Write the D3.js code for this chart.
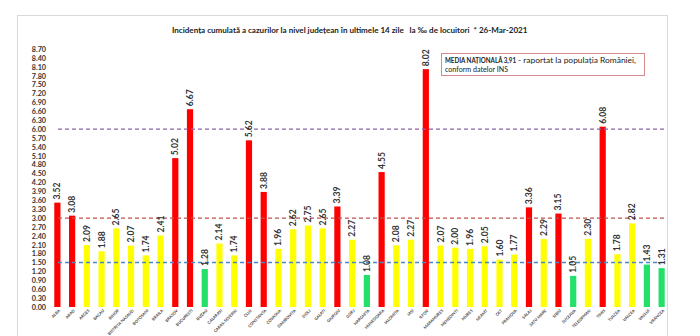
<!DOCTYPE html>
<html><head><meta charset="utf-8">
<script src="https://cdn.jsdelivr.net/npm/d3@7"></script>
<style>body{margin:0;background:#fff}svg{display:block}</style>
</head><body>
<svg id="c" width="700" height="336"></svg>
<script>
const counties = ["ALBA","ARAD","ARGES","BACAU","BIHOR","BISTRITA NASAUD","BOTOSANI","BRAILA","BRASOV","BUCURESTI","BUZAU","CALARASI","CARAS-SEVERIN","CLUJ","CONSTANTA","COVASNA","DAMBOVITA","DOLJ","GALATI","GIURGIU","GORJ","HARGHITA","HUNEDOARA","IALOMITA","IASI","ILFOV","MARAMURES","MEHEDINTI","MURES","NEAMT","OLT","PRAHOVA","SALAJ","SATU MARE","SIBIU","SUCEAVA","TELEORMAN","TIMIS","TULCEA","VALCEA","VASLUI","VRANCEA"];
const incidence = [3.52,3.08,2.09,1.88,2.65,2.07,1.74,2.41,5.02,6.67,1.28,2.14,1.74,5.62,3.88,1.96,2.62,2.75,2.65,3.39,2.27,1.08,4.55,2.08,2.27,8.02,2.07,2.00,1.96,2.05,1.60,1.77,3.36,2.29,3.15,1.05,2.30,6.08,1.78,2.82,1.43,1.31];
const yTicks = d3.range(0, 30).map(i => +(i*0.3).toFixed(2));
const thresholds = [1.5, 3.0, 6.0];
const thresholdColors = ["#4a86c8","#c0504d","#8a64a8"];
const barColors = ["#22e06a","#ffff00","#ff0000"];
const title = "Incidența cumulată a cazurilor la nivel județean în ultimele 14 zile   la ‰ de locuitori  * 26-Mar-2021";
const noteBold = "MEDIA NAȚIONALĂ 3,91";
const noteRest = "- raportat la populația României,";
const noteLine2 = "conform datelor INS";

const svg = d3.select("#c");
const font = "Lato, 'Open Sans', sans-serif";

function fitWidth(sel, w) {
  const len = sel.node().getComputedTextLength();
  const fs = parseFloat(sel.attr("font-size"));
  if (len > 0) sel.attr("font-size", fs * w / len);
}

svg.append("rect").attr("x",17.5).attr("y",15.5).attr("width",650).attr("height",340)
  .attr("fill","#fff").attr("stroke","#d9d9d9");

const x = d3.scaleBand().domain(counties).range([50,669]).paddingInner(0.58).paddingOuter(0.29);
const y = d3.scaleLinear().domain([0,8.7]).range([307,49]);
const color = d3.scaleThreshold().domain([1.5,3.0000001]).range(barColors);

const tt = svg.append("text").attr("x",172).attr("y",33)
  .attr("font-family",font).attr("font-size",7.6).attr("font-weight","bold").attr("fill","#222")
  .attr("xml:space","preserve").style("white-space","pre").text(title);
fitWidth(tt, 356);

const yAxis = d3.axisLeft(y).tickValues(yTicks).tickFormat(d3.format(".2f")).tickSize(0).tickPadding(0);
const ga = svg.append("g").attr("transform","translate(46,0)").call(yAxis);
ga.select(".domain").remove();
ga.selectAll("text").attr("font-family",font).attr("font-size",7.2).attr("font-weight","bold").attr("fill","#333");

svg.selectAll("rect.bar").data(incidence).join("rect").attr("class","bar")
  .attr("x",(d,i)=>x(counties[i])).attr("width",x.bandwidth())
  .attr("y",d=>y(d)).attr("height",d=>y(0)-y(d)).attr("fill",d=>color(d));

svg.selectAll("line.th").data(thresholds).join("line").attr("class","th")
  .attr("x1",58).attr("x2",667).attr("y1",d=>y(d)).attr("y2",d=>y(d))
  .attr("stroke",(d,i)=>thresholdColors[i]).attr("stroke-width",1.3).attr("stroke-dasharray","4,3");

svg.selectAll("text.val").data(incidence).join("text").attr("class","val")
  .attr("transform",(d,i)=>`translate(${x(counties[i])+x.bandwidth()/2+3},${y(d)-3}) rotate(-90)`)
  .attr("font-family",font).attr("font-size",8.6).attr("font-weight","bold").attr("fill","#333")
  .text(d=>d.toFixed(2));

const xAxis = d3.axisBottom(x).tickSize(0).tickPadding(0);
const gx = svg.append("g").attr("transform","translate(0,308)").call(xAxis);
gx.select(".domain").remove();
gx.selectAll("text").attr("font-family",font).attr("font-size",4.0).attr("font-weight","bold").attr("fill","#444")
  .attr("text-anchor","end").attr("dy",0).attr("y",0)
  .attr("transform","translate(3,3) rotate(-45)");

const note = svg.append("g");
note.append("rect").attr("x",441.5).attr("y",53.5).attr("width",203).attr("height",22)
  .attr("fill","#fff").attr("stroke","#d98a8f").attr("stroke-width",1);
note.append("text").attr("x",445).attr("y",63).attr("font-family",font)
  .attr("font-size",7.0).attr("font-weight","bold").attr("fill","#222")
  .attr("textLength",71).attr("lengthAdjust","spacingAndGlyphs").text(noteBold);
note.append("text").attr("x",518).attr("y",63).attr("font-family",font)
  .attr("font-size",6.7).attr("fill","#222")
  .attr("textLength",118).attr("lengthAdjust","spacingAndGlyphs").text(noteRest);
note.append("text").attr("x",445).attr("y",71.8).attr("font-family",font)
  .attr("font-size",6.7).attr("fill","#222")
  .attr("textLength",63).attr("lengthAdjust","spacingAndGlyphs").text(noteLine2);
</script>
</body></html>
